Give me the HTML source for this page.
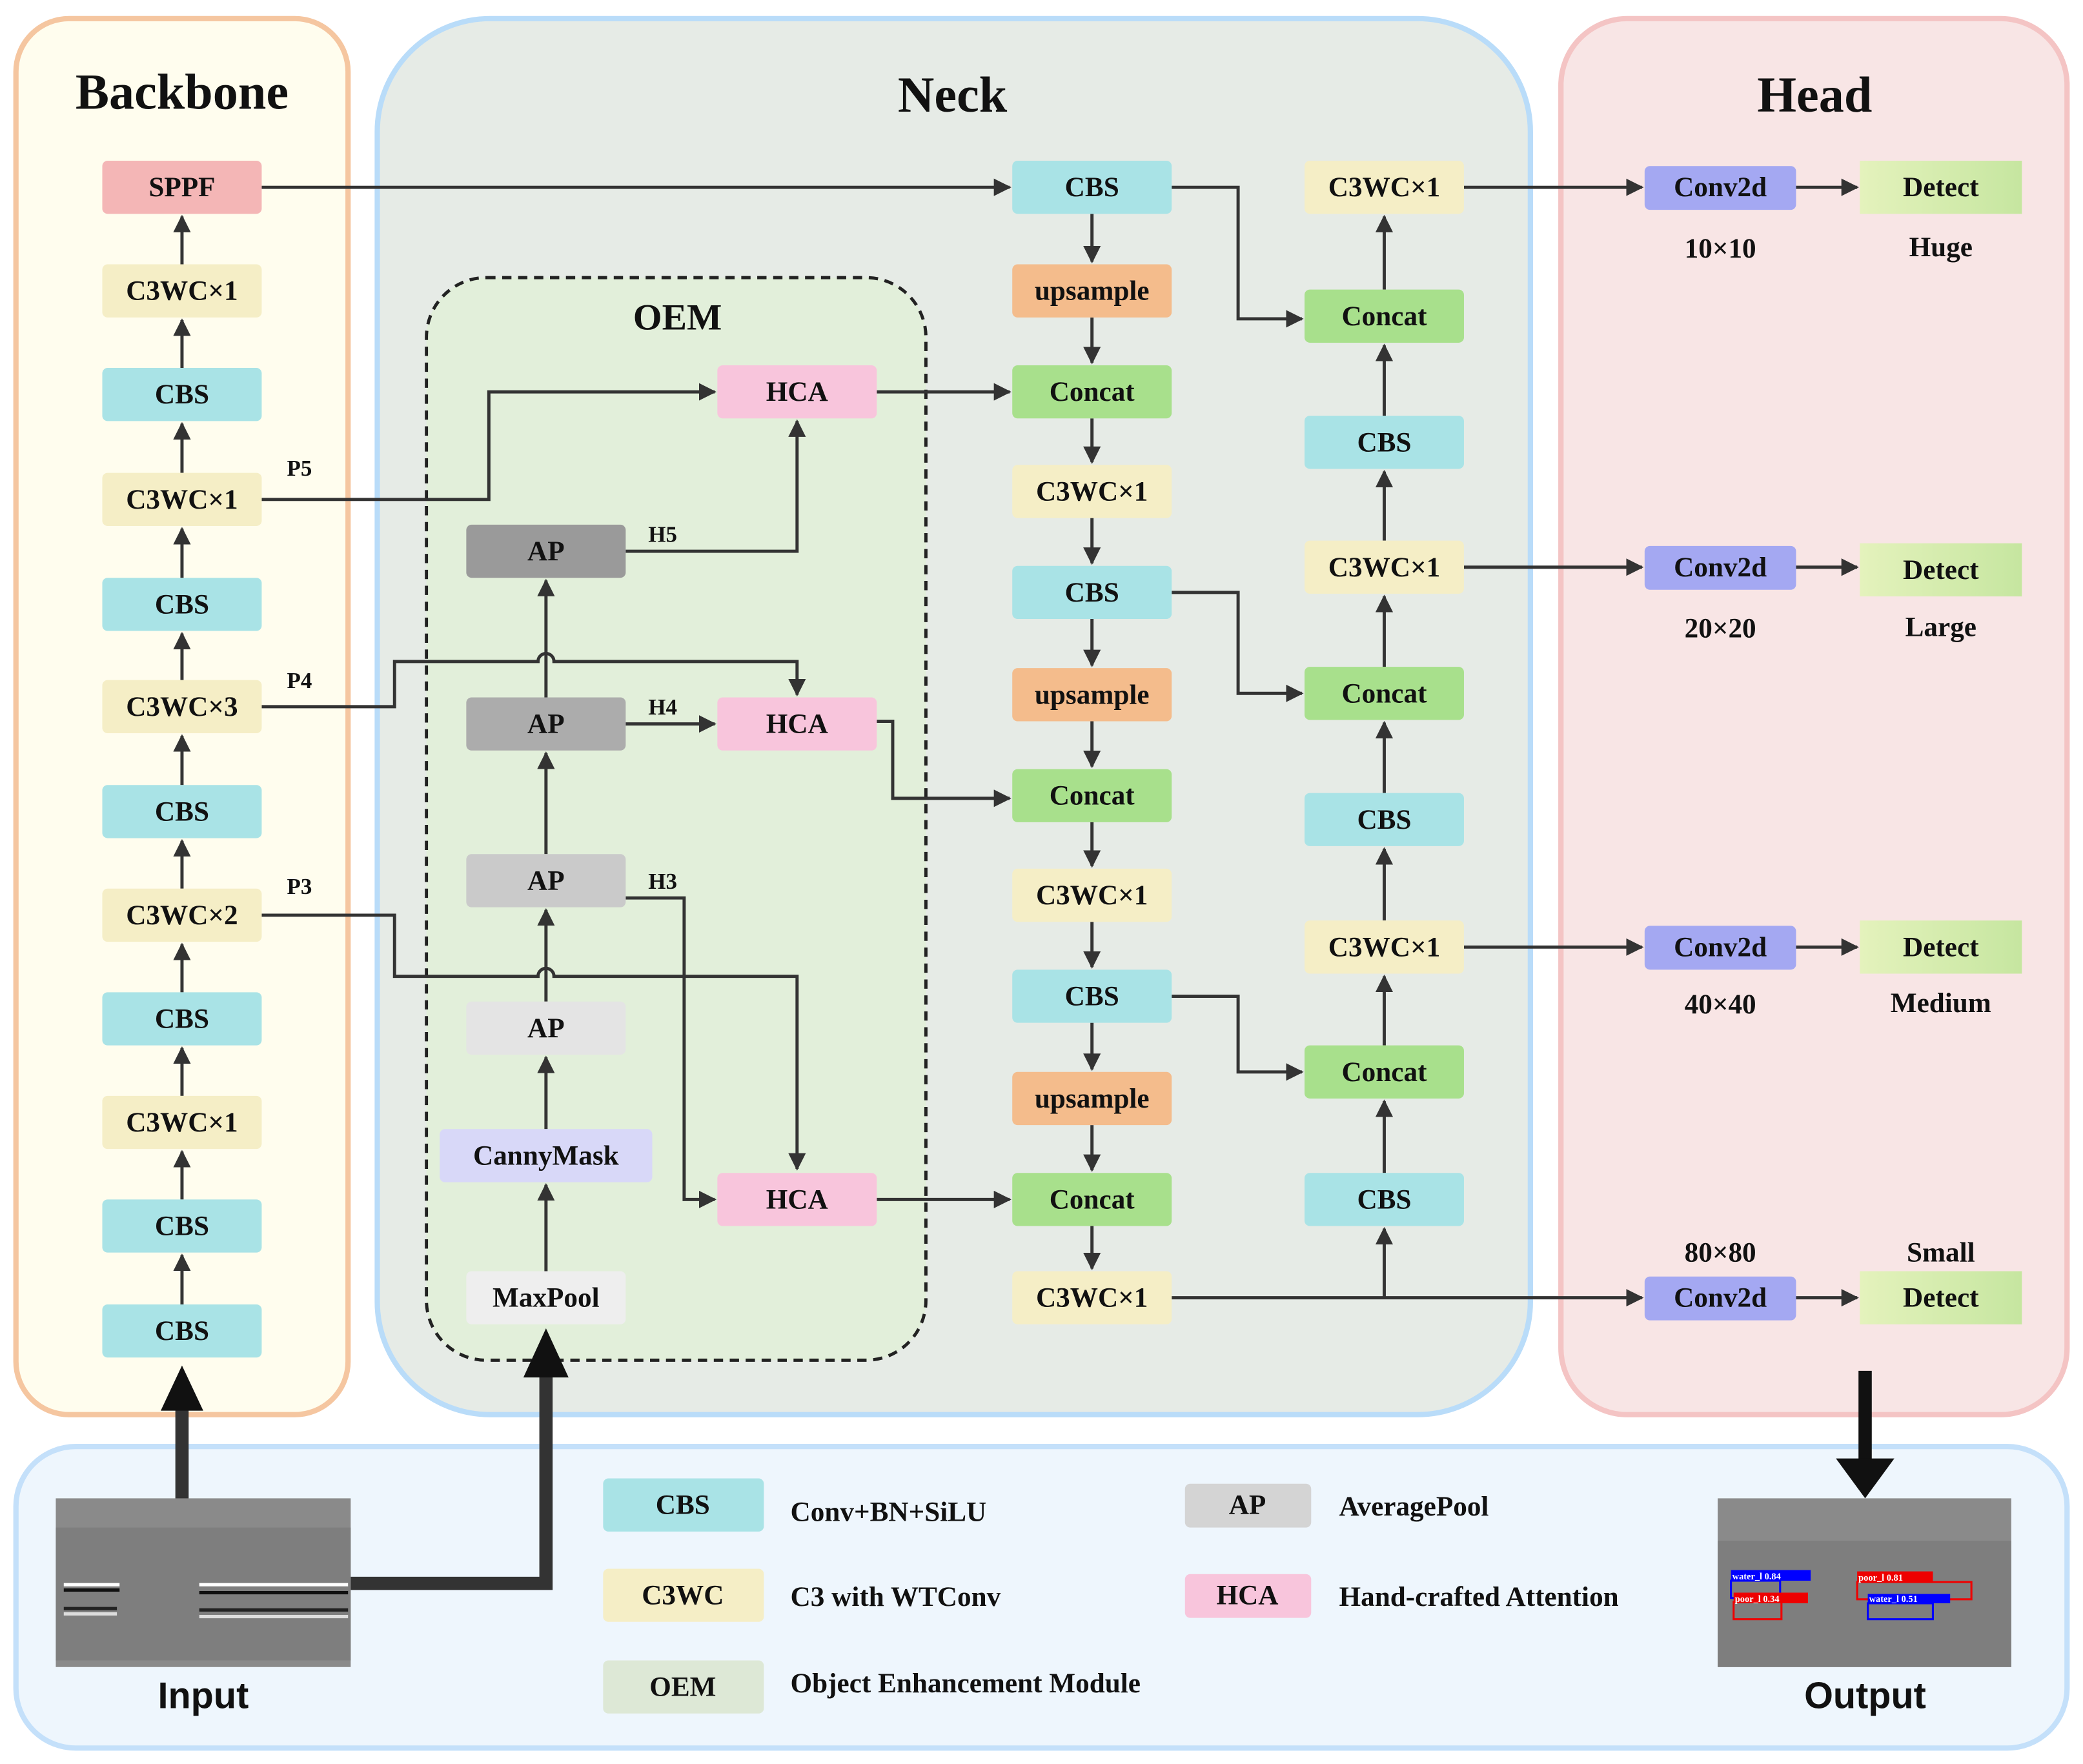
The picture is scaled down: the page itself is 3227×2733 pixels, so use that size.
<!DOCTYPE html>
<html><head><meta charset="utf-8"><style>
html,body{margin:0;padding:0;background:#fff;}
svg{display:block;}
text{font-family:"Liberation Serif",serif;font-weight:bold;fill:#111;}
.b{font-size:21px;text-anchor:middle;dominant-baseline:central;}
.l{font-size:17px;}
.ln line,.ln path{stroke:#333;stroke-width:2.4;fill:none;marker-end:url(#a);}
</style></head><body>
<svg width="3227" height="2733" viewBox="0 0 1568 1328" preserveAspectRatio="none" xmlns="http://www.w3.org/2000/svg">
<defs>
<marker id="a" viewBox="0 0 10 10" refX="9" refY="5" markerWidth="5.5" markerHeight="5.5" orient="auto" markerUnits="strokeWidth"><path d="M0,0L10,5L0,10z" fill="#333"/></marker>
<linearGradient id="dg" x1="0" x2="1"><stop offset="0" stop-color="#e4f2bc"/><stop offset="1" stop-color="#c6e6a0"/></linearGradient>
</defs>
<rect x="12" y="14" width="250" height="1051" rx="40" fill="#fffdee" stroke="#f5c6a0" stroke-width="4"/>
<rect x="284" y="14" width="868" height="1051" rx="85" fill="#e6ebe6" stroke="#b9dcf9" stroke-width="4"/>
<rect x="1175" y="14" width="381" height="1051" rx="50" fill="#f8e5e5" stroke="#f4c4c4" stroke-width="4"/>
<rect x="12" y="1089" width="1544" height="227" rx="45" fill="#eef6fd" stroke="#c4e0fa" stroke-width="4"/>
<rect x="321" y="209" width="376" height="815" rx="45" fill="#e2efda" stroke="#222" stroke-width="2.4" stroke-dasharray="7,5"/>
<text x="137" y="82" style="font-size:38px" text-anchor="middle">Backbone</text>
<text x="717" y="84" style="font-size:38px" text-anchor="middle">Neck</text>
<text x="1366" y="84" style="font-size:38px" text-anchor="middle">Head</text>
<text x="510" y="248" style="font-size:28px" text-anchor="middle">OEM</text>

<g class="ln">
<line x1="137" y1="199" x2="137" y2="163"/><line x1="137" y1="277" x2="137" y2="241"/>
<line x1="137" y1="356" x2="137" y2="319"/><line x1="137" y1="435" x2="137" y2="398"/>
<line x1="137" y1="512" x2="137" y2="477"/><line x1="137" y1="591" x2="137" y2="554"/>
<line x1="137" y1="669" x2="137" y2="633"/><line x1="137" y1="747" x2="137" y2="711"/>
<line x1="137" y1="825" x2="137" y2="789"/><line x1="137" y1="903" x2="137" y2="867"/>
<line x1="137" y1="982" x2="137" y2="945"/>
<path d="M197,141H760"/>
<path d="M197,376H368V295H538"/>
<path d="M197,532H297V498H405a6,6 0 0 1 12,0H600V523"/>
<path d="M197,689H297V735H405a6,6 0 0 1 12,0H600V880"/>
<line x1="411" y1="957" x2="411" y2="892"/><line x1="411" y1="850" x2="411" y2="796"/>
<line x1="411" y1="754" x2="411" y2="685"/><line x1="411" y1="643" x2="411" y2="567"/>
<line x1="411" y1="525" x2="411" y2="437"/>
<path d="M471,415H600V317"/>
<path d="M471,545H538"/>
<path d="M471,676H515V903H538"/>
<path d="M660,295H760"/>
<path d="M660,543H672V601H760"/>
<path d="M660,903H760"/>
<line x1="822" y1="161" x2="822" y2="197"/><line x1="822" y1="239" x2="822" y2="273"/>
<line x1="822" y1="315" x2="822" y2="348"/><line x1="822" y1="390" x2="822" y2="424"/>
<line x1="822" y1="466" x2="822" y2="501"/><line x1="822" y1="543" x2="822" y2="577"/>
<line x1="822" y1="619" x2="822" y2="652"/><line x1="822" y1="694" x2="822" y2="728"/>
<line x1="822" y1="770" x2="822" y2="805"/><line x1="822" y1="847" x2="822" y2="881"/>
<line x1="822" y1="923" x2="822" y2="955"/>
<path d="M882,141H932V240H980"/>
<path d="M882,446H932V522H980"/>
<path d="M882,750H932V807H980"/>
<path d="M882,977H1236"/>
<path d="M1042,977V925"/>
<line x1="1042" y1="883" x2="1042" y2="829"/><line x1="1042" y1="787" x2="1042" y2="735"/>
<line x1="1042" y1="693" x2="1042" y2="639"/><line x1="1042" y1="597" x2="1042" y2="544"/>
<line x1="1042" y1="502" x2="1042" y2="449"/><line x1="1042" y1="407" x2="1042" y2="355"/>
<line x1="1042" y1="313" x2="1042" y2="260"/><line x1="1042" y1="218" x2="1042" y2="163"/>
<line x1="1102" y1="141" x2="1236" y2="141"/><line x1="1102" y1="427" x2="1236" y2="427"/>
<line x1="1102" y1="713" x2="1236" y2="713"/>
<line x1="1352" y1="141" x2="1398" y2="141"/><line x1="1352" y1="427" x2="1398" y2="427"/>
<line x1="1352" y1="713" x2="1398" y2="713"/><line x1="1352" y1="977" x2="1398" y2="977"/>
</g>
<path d="M137,1130V1060" stroke="#333" stroke-width="10" fill="none"/>
<path d="M121,1062L137,1028L153,1062z" fill="#111"/>
<path d="M264,1192H411V1035" stroke="#333" stroke-width="10" fill="none"/>
<path d="M394,1037L411,1000L428,1037z" fill="#111"/>
<path d="M1404,1032V1100" stroke="#111" stroke-width="10" fill="none"/>
<path d="M1382,1098L1404,1128L1426,1098z" fill="#111"/>

<g class="l">
<text x="216" y="358">P5</text><text x="216" y="518">P4</text><text x="216" y="673">P3</text>
<text x="488" y="408">H5</text><text x="488" y="538">H4</text><text x="488" y="669">H3</text>
</g>

<g>
<rect x="77" y="121" width="120" height="40" rx="4" fill="#f4b6b6"/><text class="b" x="137" y="141">SPPF</text>
<rect x="77" y="199" width="120" height="40" rx="4" fill="#f5eec6"/><text class="b" x="137" y="219">C3WC×1</text>
<rect x="77" y="277" width="120" height="40" rx="4" fill="#a9e3e6"/><text class="b" x="137" y="297">CBS</text>
<rect x="77" y="356" width="120" height="40" rx="4" fill="#f5eec6"/><text class="b" x="137" y="376">C3WC×1</text>
<rect x="77" y="435" width="120" height="40" rx="4" fill="#a9e3e6"/><text class="b" x="137" y="455">CBS</text>
<rect x="77" y="512" width="120" height="40" rx="4" fill="#f5eec6"/><text class="b" x="137" y="532">C3WC×3</text>
<rect x="77" y="591" width="120" height="40" rx="4" fill="#a9e3e6"/><text class="b" x="137" y="611">CBS</text>
<rect x="77" y="669" width="120" height="40" rx="4" fill="#f5eec6"/><text class="b" x="137" y="689">C3WC×2</text>
<rect x="77" y="747" width="120" height="40" rx="4" fill="#a9e3e6"/><text class="b" x="137" y="767">CBS</text>
<rect x="77" y="825" width="120" height="40" rx="4" fill="#f5eec6"/><text class="b" x="137" y="845">C3WC×1</text>
<rect x="77" y="903" width="120" height="40" rx="4" fill="#a9e3e6"/><text class="b" x="137" y="923">CBS</text>
<rect x="77" y="982" width="120" height="40" rx="4" fill="#a9e3e6"/><text class="b" x="137" y="1002">CBS</text>

<rect x="540" y="275" width="120" height="40" rx="4" fill="#f8c5dc"/><text class="b" x="600" y="295">HCA</text>
<rect x="540" y="525" width="120" height="40" rx="4" fill="#f8c5dc"/><text class="b" x="600" y="545">HCA</text>
<rect x="540" y="883" width="120" height="40" rx="4" fill="#f8c5dc"/><text class="b" x="600" y="903">HCA</text>
<rect x="351" y="395" width="120" height="40" rx="4" fill="#9a9a9a"/><text class="b" x="411" y="415">AP</text>
<rect x="351" y="525" width="120" height="40" rx="4" fill="#acacac"/><text class="b" x="411" y="545">AP</text>
<rect x="351" y="643" width="120" height="40" rx="4" fill="#cacaca"/><text class="b" x="411" y="663">AP</text>
<rect x="351" y="754" width="120" height="40" rx="4" fill="#e4e4e4"/><text class="b" x="411" y="774">AP</text>
<rect x="331" y="850" width="160" height="40" rx="4" fill="#d8d8f8"/><text class="b" x="411" y="870">CannyMask</text>
<rect x="351" y="957" width="120" height="40" rx="4" fill="#eeeeee"/><text class="b" x="411" y="977">MaxPool</text>

<rect x="762" y="121" width="120" height="40" rx="4" fill="#a9e3e6"/><text class="b" x="822" y="141">CBS</text>
<rect x="762" y="199" width="120" height="40" rx="4" fill="#f4bc8c"/><text class="b" x="822" y="219">upsample</text>
<rect x="762" y="275" width="120" height="40" rx="4" fill="#a8e08c"/><text class="b" x="822" y="295">Concat</text>
<rect x="762" y="350" width="120" height="40" rx="4" fill="#f5eec6"/><text class="b" x="822" y="370">C3WC×1</text>
<rect x="762" y="426" width="120" height="40" rx="4" fill="#a9e3e6"/><text class="b" x="822" y="446">CBS</text>
<rect x="762" y="503" width="120" height="40" rx="4" fill="#f4bc8c"/><text class="b" x="822" y="523">upsample</text>
<rect x="762" y="579" width="120" height="40" rx="4" fill="#a8e08c"/><text class="b" x="822" y="599">Concat</text>
<rect x="762" y="654" width="120" height="40" rx="4" fill="#f5eec6"/><text class="b" x="822" y="674">C3WC×1</text>
<rect x="762" y="730" width="120" height="40" rx="4" fill="#a9e3e6"/><text class="b" x="822" y="750">CBS</text>
<rect x="762" y="807" width="120" height="40" rx="4" fill="#f4bc8c"/><text class="b" x="822" y="827">upsample</text>
<rect x="762" y="883" width="120" height="40" rx="4" fill="#a8e08c"/><text class="b" x="822" y="903">Concat</text>
<rect x="762" y="957" width="120" height="40" rx="4" fill="#f5eec6"/><text class="b" x="822" y="977">C3WC×1</text>

<rect x="982" y="121" width="120" height="40" rx="4" fill="#f5eec6"/><text class="b" x="1042" y="141">C3WC×1</text>
<rect x="982" y="218" width="120" height="40" rx="4" fill="#a8e08c"/><text class="b" x="1042" y="238">Concat</text>
<rect x="982" y="313" width="120" height="40" rx="4" fill="#a9e3e6"/><text class="b" x="1042" y="333">CBS</text>
<rect x="982" y="407" width="120" height="40" rx="4" fill="#f5eec6"/><text class="b" x="1042" y="427">C3WC×1</text>
<rect x="982" y="502" width="120" height="40" rx="4" fill="#a8e08c"/><text class="b" x="1042" y="522">Concat</text>
<rect x="982" y="597" width="120" height="40" rx="4" fill="#a9e3e6"/><text class="b" x="1042" y="617">CBS</text>
<rect x="982" y="693" width="120" height="40" rx="4" fill="#f5eec6"/><text class="b" x="1042" y="713">C3WC×1</text>
<rect x="982" y="787" width="120" height="40" rx="4" fill="#a8e08c"/><text class="b" x="1042" y="807">Concat</text>
<rect x="982" y="883" width="120" height="40" rx="4" fill="#a9e3e6"/><text class="b" x="1042" y="903">CBS</text>

<rect x="1238" y="125" width="114" height="33" rx="4" fill="#a4a8f2"/><text class="b" x="1295" y="141">Conv2d</text>
<rect x="1238" y="411" width="114" height="33" rx="4" fill="#a4a8f2"/><text class="b" x="1295" y="427">Conv2d</text>
<rect x="1238" y="697" width="114" height="33" rx="4" fill="#a4a8f2"/><text class="b" x="1295" y="713">Conv2d</text>
<rect x="1238" y="961" width="114" height="33" rx="4" fill="#a4a8f2"/><text class="b" x="1295" y="977">Conv2d</text>
<rect x="1400" y="121" width="122" height="40" fill="url(#dg)"/><text class="b" x="1461" y="141">Detect</text>
<rect x="1400" y="409" width="122" height="40" fill="url(#dg)"/><text class="b" x="1461" y="429">Detect</text>
<rect x="1400" y="693" width="122" height="40" fill="url(#dg)"/><text class="b" x="1461" y="713">Detect</text>
<rect x="1400" y="957" width="122" height="40" fill="url(#dg)"/><text class="b" x="1461" y="977">Detect</text>
<text class="b" x="1295" y="187">10×10</text><text class="b" x="1461" y="186">Huge</text>
<text class="b" x="1295" y="473">20×20</text><text class="b" x="1461" y="472">Large</text>
<text class="b" x="1295" y="756">40×40</text><text class="b" x="1461" y="755">Medium</text>
<text class="b" x="1295" y="943">80×80</text><text class="b" x="1461" y="943">Small</text>

<rect x="454" y="1113" width="121" height="40" rx="4" fill="#a9e3e6"/><text class="b" x="514" y="1133">CBS</text>
<rect x="454" y="1181" width="121" height="40" rx="4" fill="#f5eec6"/><text class="b" x="514" y="1201">C3WC</text>
<rect x="454" y="1250" width="121" height="40" rx="4" fill="#dde8d6"/><text class="b" x="514" y="1270">OEM</text>
<rect x="892" y="1117" width="95" height="33" rx="4" fill="#d4d4d4"/><text class="b" x="939" y="1133">AP</text>
<rect x="892" y="1185" width="95" height="33" rx="4" fill="#f8c5dc"/><text class="b" x="939" y="1201">HCA</text>
<g style="font-size:21px">
<text x="595" y="1145">Conv+BN+SiLU</text>
<text x="595" y="1209">C3 with WTConv</text>
<text x="595" y="1274">Object Enhancement Module</text>
<text x="1008" y="1141">AveragePool</text>
<text x="1008" y="1209">Hand-crafted Attention</text>
</g>

<rect x="42" y="1128" width="222" height="127" fill="#8a8a8a"/>
<rect x="42" y="1150" width="222" height="100" fill="#7e7e7e"/>
<g stroke-width="2.5" fill="none">
<path d="M48,1193H90M150,1193H262" stroke="#fff"/><path d="M48,1197H90M150,1199H262" stroke="#111"/>
<path d="M48,1215H88M150,1217H262" stroke="#ddd"/><path d="M48,1211H88M150,1212H262" stroke="#222"/>
</g>
<rect x="1293" y="1128" width="221" height="127" fill="#8a8a8a"/>
<rect x="1293" y="1160" width="221" height="95" fill="#7e7e7e"/>
<g fill="none" stroke-width="1.5">
<rect x="1303" y="1190" width="37" height="13" stroke="#00f"/><rect x="1305" y="1206" width="36" height="13" stroke="#e00"/>
<rect x="1398" y="1191" width="86" height="13" stroke="#e00"/><rect x="1406" y="1207" width="49" height="12" stroke="#00f"/>
</g>
<rect x="1303" y="1182" width="60" height="8" fill="#00f"/><rect x="1305" y="1199" width="56" height="8" fill="#e00"/>
<rect x="1398" y="1183" width="57" height="8" fill="#e00"/><rect x="1406" y="1200" width="62" height="7" fill="#00f"/>
<g style="font-family:'Liberation Sans',sans-serif;font-size:7px;font-weight:normal">
<text x="1304" y="1189" style="fill:#fff">water_l 0.84</text>
<text x="1306" y="1206" style="fill:#fff">poor_l 0.34</text>
<text x="1399" y="1190" style="fill:#fff">poor_l 0.81</text>
<text x="1407" y="1206" style="fill:#fff">water_l 0.51</text>
</g>
<text x="153" y="1286" style="font-family:'Liberation Sans',sans-serif;font-size:28px" text-anchor="middle">Input</text>
<text x="1404" y="1286" style="font-family:'Liberation Sans',sans-serif;font-size:28px" text-anchor="middle">Output</text>
</g>
</svg>
</body></html>
